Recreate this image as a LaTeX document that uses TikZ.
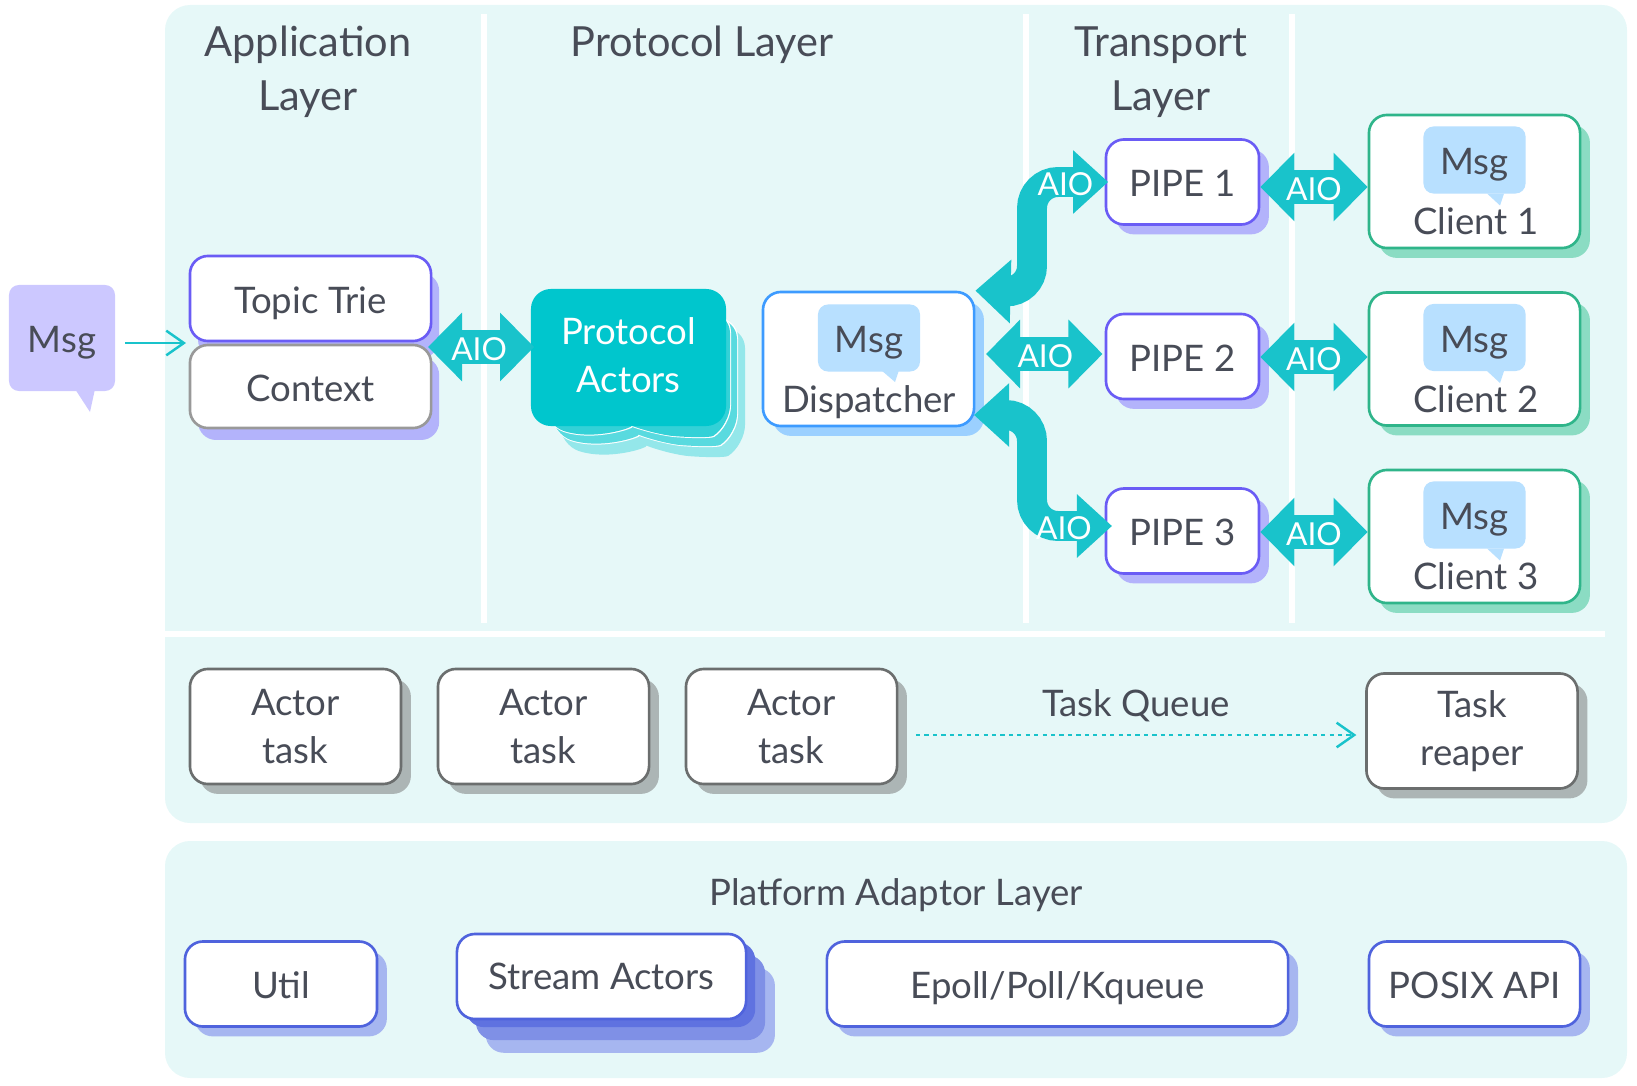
\documentclass[tikz,border=0pt]{standalone}
\usepackage{fontspec}
\setmainfont{Lato}
\usetikzlibrary{arrows.meta,shadows}
\definecolor{panelbg}{HTML}{E6F8F8}
\definecolor{inkgray}{HTML}{484C57}
\definecolor{aiocyan}{HTML}{19C3CB}
\definecolor{actorcyan}{HTML}{00C6CD}
\definecolor{violetline}{HTML}{6A5CF5}
\definecolor{violetshade}{HTML}{B3B3FB}
\definecolor{blueline}{HTML}{3D9BFF}
\definecolor{blueshade}{HTML}{9BD0FF}
\definecolor{bubbleblue}{HTML}{B8E0FF}
\definecolor{bubbleviolet}{HTML}{CCC8FF}
\definecolor{greenline}{HTML}{2FB58A}
\definecolor{greenshade}{HTML}{8BDCC3}
\definecolor{grayline}{HTML}{6B6E6E}
\definecolor{grayshade}{HTML}{ACB5B5}
\definecolor{indigoline}{HTML}{4F63DD}
\definecolor{indigoshade}{HTML}{A6B6F0}
\definecolor{indigomid}{HTML}{7F90E6}
\definecolor{indigofront}{HTML}{5F72E0}
\tikzset{
    bodytext/.style={font=\fontsize{10.4}{13.7}\selectfont, text=inkgray, align=center},
    headtext/.style={font=\fontsize{11.8}{15.4}\selectfont, text=inkgray, align=center},
    oneline/.style={text height=8.5pt, text depth=0pt},
    basebox/.style={bodytext, rectangle, rounded corners=0.18cm, fill=white, line width=0.75pt, inner sep=0pt},
    trienode/.style={basebox, oneline, draw=violetline, minimum width=2.41cm, minimum height=0.85cm,
        general shadow={fill=violetshade, shadow xshift=2.3pt, shadow yshift=-4.8pt}},
    contextnode/.style={basebox, oneline, draw=gray!80, minimum width=2.41cm, minimum height=0.83cm,
        general shadow={fill=violetshade, shadow xshift=2.3pt, shadow yshift=-3.4pt}},
    dispatchnode/.style={basebox, draw=blueline, minimum width=2.11cm, minimum height=1.34cm,
        general shadow={fill=blueshade, shadow xshift=2.8pt, shadow yshift=-2.8pt}},
    pipenode/.style={basebox, oneline, draw=violetline, minimum width=1.53cm, minimum height=0.85cm,
        general shadow={fill=violetshade, shadow xshift=2.8pt, shadow yshift=-2.8pt}},
    clientnode/.style={basebox, draw=greenline, minimum width=2.11cm, minimum height=1.33cm,
        general shadow={fill=greenshade, shadow xshift=2.8pt, shadow yshift=-2.8pt}},
    tasknode/.style={basebox, draw=grayline, minimum width=2.11cm, minimum height=1.15cm,
        general shadow={fill=grayshade, shadow xshift=2.8pt, shadow yshift=-2.8pt}},
    adaptornode/.style={basebox, oneline, draw=indigoline, minimum height=0.85cm,
        general shadow={fill=indigoshade, shadow xshift=2.8pt, shadow yshift=-2.8pt}},
    streamnode/.style={basebox, draw=indigoline, minimum width=2.89cm, minimum height=0.85cm,
        general shadow={fill=indigoshade, shadow xshift=8.2pt, shadow yshift=-9.6pt},
        general shadow={fill=indigomid, shadow xshift=5.4pt, shadow yshift=-6pt},
        general shadow={fill=indigofront, shadow xshift=2.6pt, shadow yshift=-2.3pt}},
    bubblenode/.style={bodytext, oneline, rectangle, rounded corners=0.1cm, fill=bubbleblue,
        minimum width=1.02cm, minimum height=0.67cm, inner sep=0pt},
    aiolabel/.style={font=\fontsize{9}{11}\selectfont, text=white, inner sep=0pt, text height=7.8pt, text depth=0pt},
    aioarrow/.style={draw=aiocyan, line width=9.7pt,
        {Triangle[length=9.7pt,width=19pt]}-{Triangle[length=9.7pt,width=19pt]}},
    aiobent/.style={draw=aiocyan, line width=8.5pt, rounded corners=0.26cm,
        {Triangle[length=10pt,width=17.5pt]}-{Triangle[length=10pt,width=17.5pt]}},
    thinarrow/.style={draw=aiocyan, line width=0.7pt, -{Straight Barb[length=5pt,width=7pt,line width=0.7pt]}},
    panelline/.style={draw=white, line width=1.7pt},
}
% one sheet of the actor stack: left, top, right, bottom, colour
\newcommand{\actorsheet}[5]{
    \fill[#5, rounded corners=0.2cm] (#3,#2+40) -- (#3,#2) -- (#1,#2) -- (#1,#4-12)
        .. controls (#1+50,#4+4) and (#1+90,#4-10) .. (#3-80,#4-4)
        .. controls (#3-50,#4) and (#3-20,#4+1) .. (#3,#4-12) -- cycle;
}
\begin{document}
\begin{tikzpicture}[x=0.01cm, y=-0.01cm]
    \useasboundingbox (0,0) rectangle (1637,1085);

    % Panels
    \fill[panelbg, rounded corners=0.25cm] (165,5) rectangle (1627,823);
    \fill[panelbg, rounded corners=0.25cm] (165,841) rectangle (1627,1078);
    \foreach \x in {484,1026,1292} {
        \draw[panelline] (\x,14) -- (\x,623);
    }
    \draw[panelline] (165,634) -- (1605,634);

    % Layer titles
    \node[headtext] (apptitle) at (308,72) {Application\\Layer};
    \node[headtext] (prototitle) at (702,45) {Protocol Layer};
    \node[headtext] (transporttitle) at (1161,72) {Transport\\Layer};
    \node[bodytext] (platformtitle) at (896,895) {Platform Adaptor Layer};

    % Incoming message
    \node[bodytext, oneline, rectangle, rounded corners=0.1cm, fill=bubbleviolet, minimum width=1.06cm, minimum height=1.06cm] (msgin) at (62,338) {Msg};
    \fill[bubbleviolet] (75,389) -- (90,412) -- (95,389) -- cycle;

    % Application layer
    \node[trienode] (trie) at (310.5,298.5) {Topic Trie};
    \node[contextnode] (context) at (310.5,386.5) {Context};
    \coordinate (entry) at (125,343);
    \draw[thinarrow] (entry) -- (186,343);

    % Protocol actors
    \actorsheet{560}{328}{745}{457}{actorcyan!42}
    \actorsheet{552}{318}{738}{447}{white}
    \actorsheet{552}{319}{737}{446}{actorcyan!65}
    \actorsheet{545}{312}{731}{438}{white}
    \actorsheet{545}{313}{730}{437}{actorcyan!80}
    \node[bodytext, text=white, text depth=1.2pt, rectangle, rounded corners=0.2cm, fill=actorcyan, minimum width=1.95cm, minimum height=1.37cm] (actors) at (628.5,357.5) {Protocol\\Actors};

    % Dispatcher
    \node[dispatchnode] (dispatcher) at (868.5,359) {};
    \node[bubblenode] (msgd) at (869,338) {Msg};
    \fill[bubbleblue] (881,370) -- (895,382) -- (899,370) -- cycle;
    \node[bodytext, oneline] (dispatchname) at (869,398) {Dispatcher};

    % Pipes and clients
    \foreach \i/\py/\cy/\ay in {1/182/181.5/187, 2/356.5/359/357, 3/531/536.5/532} {
        \node[pipenode] (pipe\i) at (1182.5,\py) {PIPE \i};
        \node[clientnode] (client\i) at (1474.5,\cy) {};
        \node[bubblenode] (msgc\i) at (1474.5,\cy-21.5) {Msg};
        \fill[bubbleblue] (1487,\cy+12) -- (1500,\cy+24) -- (1504,\cy+12) -- cycle;
        \node[bodytext] (clientname\i) at (1476,\cy+40) {Client \i};
        \coordinate (port\i) at (1314,\ay);
        \draw[aioarrow] (pipe\i.east |- port\i) -- (client\i.west |- port\i) node[aiolabel, midway] (aioc\i) {AIO};
    }

    % AIO links
    \coordinate (triePort) at (428,347);
    \draw[aioarrow, shorten >=-1.1pt] (triePort) -- (actors.west |- triePort) node[aiolabel, midway] (aioa) {AIO};
    \coordinate (dispPort) at (986,354);
    \draw[aioarrow, shorten >=0.6pt] (dispPort) -- (pipe2.west |- dispPort) node[aiolabel, midway] (aiob) {AIO};
    \coordinate (bendup) at (1032,292);
    \draw[aiobent, shorten <=-1pt] (pipe1.west) -| (bendup) node[aiolabel, pos=0.27] (aioup) {AIO} -- (dispatcher.north east);
    \coordinate (benddown) at (1032,415);
    \coordinate (tipdown) at (974,415);
    \coordinate (pipedown) at (1112,526);
    \draw[aiobent] (pipedown) -| (benddown) node[aiolabel, pos=0.3] (aiodown) {AIO} -- (tipdown);

    % Task queue
    \foreach \n/\x in {1/295.5, 2/543.5, 3/791.5} {
        \node[tasknode] (actor\n) at (\x,726.5) {Actor\\task};
    }
    \node[tasknode] (reaper) at (1472,731) {Task\\reaper};
    \node[bodytext] (queuename) at (1136,706) {Task Queue};
    \coordinate (queue) at (1136,735);
    \draw[thinarrow, line width=0.8pt, dash pattern=on 1.2pt off 1.2pt, shorten <=5pt, shorten >=2.5pt] (actor3.east |- queue) -- (reaper.west |- queue);

    % Platform adaptors
    \node[adaptornode, minimum width=1.92cm] (util) at (281,984) {Util};
    \node[streamnode] (stream) at (601.5,976.5) {Stream Actors};
    \node[adaptornode, minimum width=4.61cm] (epoll) at (1057.5,984) {Epoll/Poll/Kqueue};
    \node[adaptornode, minimum width=2.11cm] (posix) at (1474.5,984) {POSIX API};
\end{tikzpicture}
\end{document}
